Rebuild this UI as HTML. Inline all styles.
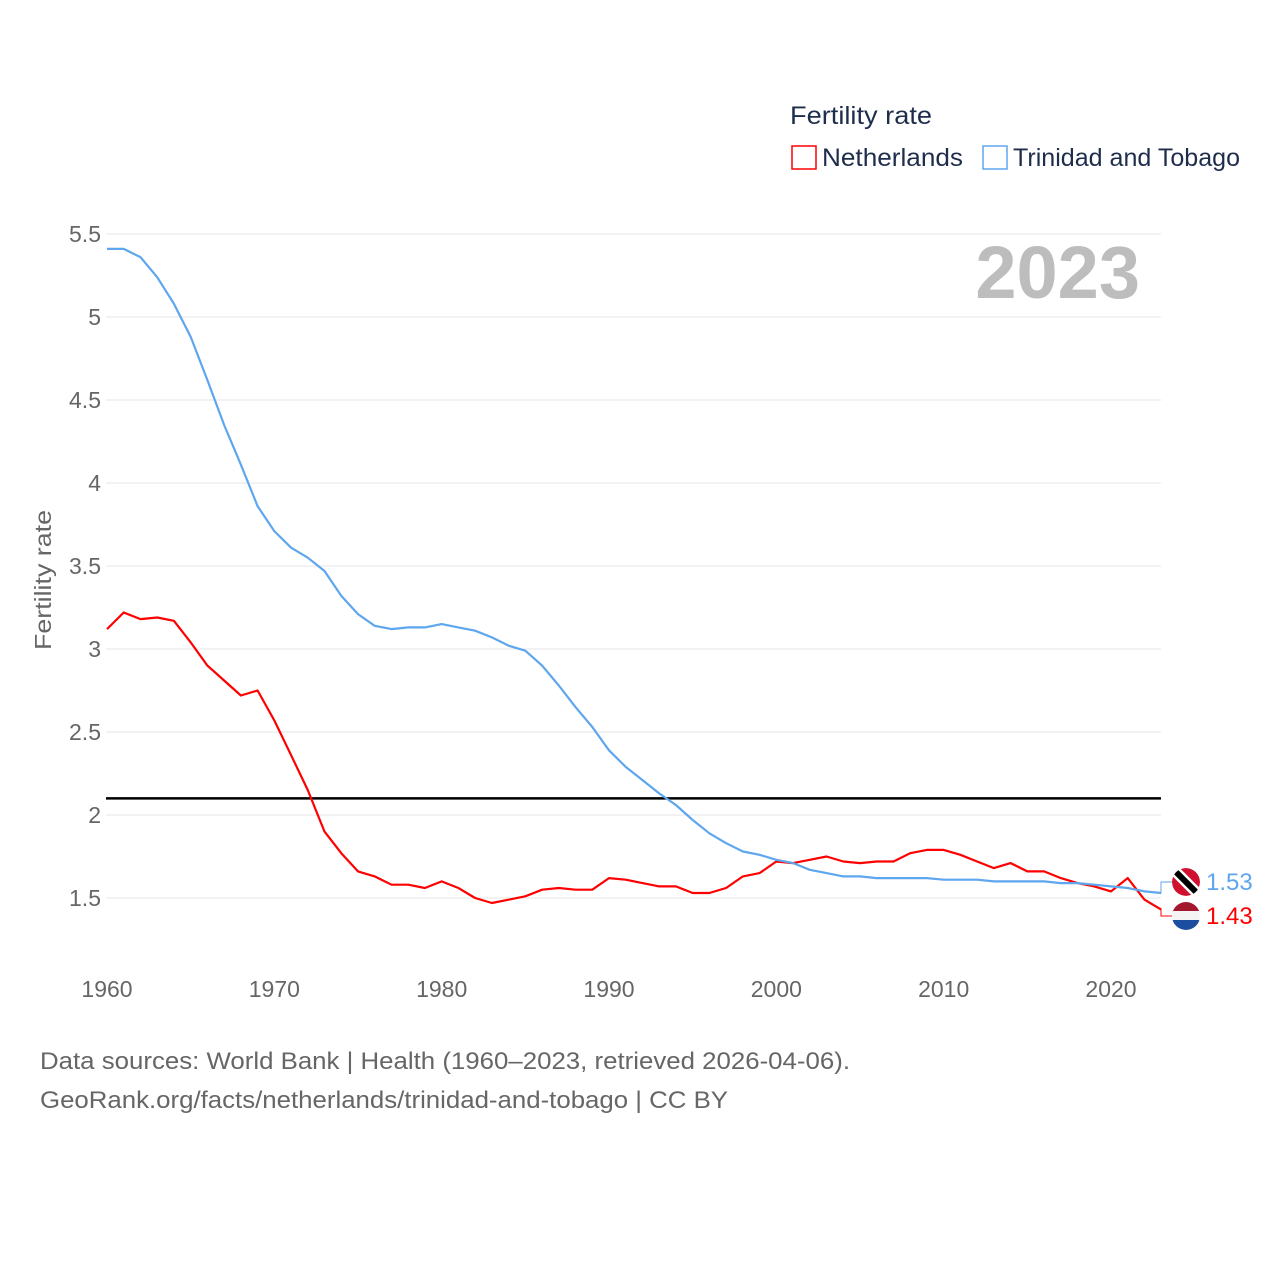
<!DOCTYPE html>
<html><head><meta charset="utf-8"><style>
body{margin:0;background:#fff;font-family:"Liberation Sans",sans-serif;}
svg{display:block}
</style></head><body>
<svg id="chart" width="1280" height="1280">
<defs>
<clipPath id="c1"><circle cx="1186" cy="882" r="14"/></clipPath>
<clipPath id="c2"><circle cx="1186" cy="916" r="14"/></clipPath>
</defs>
<g id="grid"></g>
<g id="lines"></g>
<text x="790" y="124" font-size="25" fill="#1f2d4d" textLength="142" lengthAdjust="spacingAndGlyphs">Fertility rate</text>
<rect x="792" y="146" width="24" height="23" fill="none" stroke="#f00" stroke-width="1.5"/>
<text x="822" y="166" font-size="25" fill="#1f2d4d" textLength="141" lengthAdjust="spacingAndGlyphs">Netherlands</text>
<rect x="983" y="146" width="24" height="23" fill="none" stroke="#5ea6ee" stroke-width="1.5"/>
<text x="1013" y="166" font-size="25" fill="#1f2d4d" textLength="227" lengthAdjust="spacingAndGlyphs">Trinidad and Tobago</text>
<text x="1140" y="298" font-size="74" font-weight="bold" fill="#bdbdbd" text-anchor="end">2023</text>
<text transform="translate(51,580) rotate(-90)" font-size="23" fill="#666" text-anchor="middle" textLength="140" lengthAdjust="spacingAndGlyphs">Fertility rate</text>
<g clip-path="url(#c1)">
<circle cx="1186" cy="882" r="14" fill="#d0102e"/>
<line x1="1172" y1="868" x2="1200" y2="896" stroke="#fff" stroke-width="11"/>
<line x1="1172" y1="868" x2="1200" y2="896" stroke="#000" stroke-width="6"/>
</g>
<g clip-path="url(#c2)">
<rect x="1172" y="902" width="28" height="10" fill="#a3182c"/>
<rect x="1172" y="911" width="28" height="10" fill="#f4f4f4"/>
<rect x="1172" y="920" width="28" height="10" fill="#1c4ea0"/>
</g>
<text x="1206" y="890" font-size="24" fill="#5ea6ee">1.53</text>
<text x="1206" y="924" font-size="24" fill="#f00">1.43</text>
<text x="40" y="1069" font-size="24" fill="#666" textLength="810" lengthAdjust="spacingAndGlyphs">Data sources: World Bank | Health (1960–2023, retrieved 2026-04-06).</text>
<text x="40" y="1108" font-size="24" fill="#666" textLength="688" lengthAdjust="spacingAndGlyphs">GeoRank.org/facts/netherlands/trinidad-and-tobago | CC BY</text>
</svg>
<script>
const years=[];for(let y=1960;y<=2023;y++)years.push(y);
const netherlands=[3.12,3.22,3.18,3.19,3.17,3.04,2.90,2.81,2.72,2.75,2.57,2.36,2.15,1.90,1.77,1.66,1.63,1.58,1.58,1.56,1.60,1.56,1.50,1.47,1.49,1.51,1.55,1.56,1.55,1.55,1.62,1.61,1.59,1.57,1.57,1.53,1.53,1.56,1.63,1.65,1.72,1.71,1.73,1.75,1.72,1.71,1.72,1.72,1.77,1.79,1.79,1.76,1.72,1.68,1.71,1.66,1.66,1.62,1.59,1.57,1.54,1.62,1.49,1.43];
const trinidad=[5.41,5.41,5.36,5.24,5.08,4.88,4.62,4.35,4.11,3.86,3.71,3.61,3.55,3.47,3.32,3.21,3.14,3.12,3.13,3.13,3.15,3.13,3.11,3.07,3.02,2.99,2.90,2.78,2.65,2.53,2.39,2.29,2.21,2.13,2.06,1.97,1.89,1.83,1.78,1.76,1.73,1.71,1.67,1.65,1.63,1.63,1.62,1.62,1.62,1.62,1.61,1.61,1.61,1.60,1.60,1.60,1.60,1.59,1.59,1.58,1.57,1.56,1.54,1.53];
const yTicks=[1.5,2,2.5,3,3.5,4,4.5,5,5.5];
const yTickLabels=["1.5","2","2.5","3","3.5","4","4.5","5","5.5"];
const xTicks=[1960,1970,1980,1990,2000,2010,2020];
const replacement=2.1;
const X=y=>107+(y-1960)*(1004/60);
const Y=v=>898-(v-1.5)*166;
const NS="http://www.w3.org/2000/svg";
const grid=document.getElementById('grid'),lines=document.getElementById('lines');
function mk(tag,attrs,parent){const e=document.createElementNS(NS,tag);for(const k in attrs)e.setAttribute(k,attrs[k]);parent.appendChild(e);return e;}
yTicks.forEach((v,i)=>{
  const l=mk('line',{x1:106,x2:1161,y1:Y(v),y2:Y(v),stroke:'#e6e6e6','stroke-width':1},grid);
  
  
  const t=mk('text',{x:101,y:Y(v)+8,'font-size':23,fill:'#666','text-anchor':'end'},grid);
  t.textContent=yTickLabels[i];
  
  
});
xTicks.forEach(y=>{
  const t=mk('text',{x:X(y),y:997,'font-size':23,fill:'#666','text-anchor':'middle'},grid);
  t.textContent=y;
  
  
});
const ref=mk('line',{x1:106,x2:1161,y1:Y(replacement),y2:Y(replacement),stroke:'#000','stroke-width':2.5},lines);


function series(vals,color,name,labelY){
  const d=vals.map((v,i)=>(i?'L':'M')+X(years[i]).toFixed(1)+','+Y(v).toFixed(1)).join('');
  const p=mk('path',{d:d,fill:'none',stroke:color,'stroke-width':2.2,'stroke-linejoin':'round'},lines);
  
  
  const ex=X(years[years.length-1]),ey=Y(vals[vals.length-1]);
  const c=mk('path',{d:`M${ex},${ey}L1161,${ey}L1161,${labelY}L1172,${labelY}`,fill:'none',stroke:color,'stroke-width':1},lines);
  
  
}
series(netherlands,'#f00','netherlands',916);
series(trinidad,'#5ea6ee','trinidad',882);
</script>
</body></html>
